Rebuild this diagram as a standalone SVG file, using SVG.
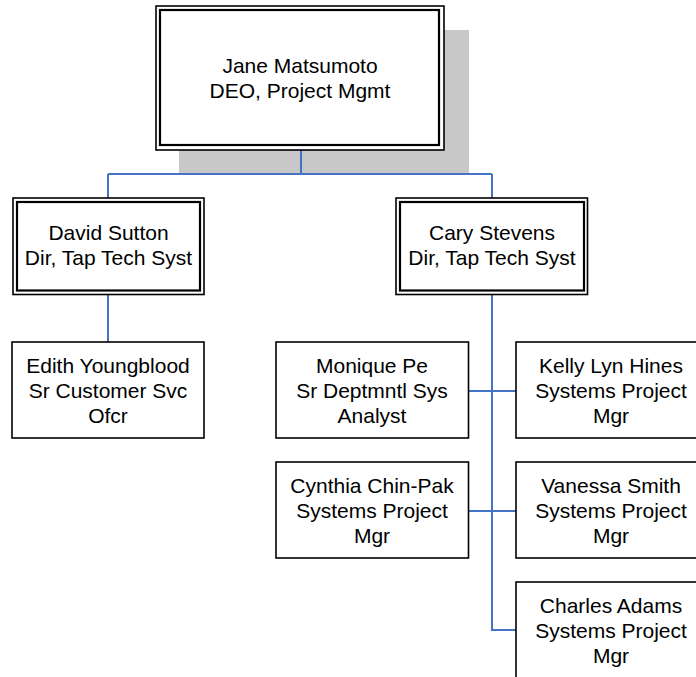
<svg xmlns="http://www.w3.org/2000/svg" width="696" height="677" viewBox="0 0 696 677">
<style>
text{font-family:"Liberation Sans",Arial,sans-serif;font-size:21px;fill:#000;text-anchor:middle}
.o{fill:#fff;stroke:#000;stroke-width:1.6}
.i{fill:none;stroke:#000;stroke-width:2.2}
.b{fill:#fff;stroke:#000;stroke-width:1.6}
.c{fill:none;stroke:#4472C4;stroke-width:2}
</style>
<rect width="696" height="677" fill="#fff"/>
<rect id="shadow" x="179" y="30" width="290" height="144" fill="#C8C8C8"/>
<g id="connectors">
<path class="c" d="M301 150V174M108 174H492M108 174V198M492 174V198"/>
<path class="c" d="M108 294V342"/>
<path class="c" d="M492 294V630H516"/>
<path class="c" d="M468 391H516M468 511H516"/>
</g>
<g id="jane">
<rect class="o" x="156" y="6" width="288" height="144"/>
<rect class="i" x="160" y="10" width="279" height="135"/>
<text x="300" y="73">Jane Matsumoto</text>
<text x="300" y="98">DEO, Project Mgmt</text>
</g>
<g id="david">
<rect class="o" x="13" y="198" width="191" height="96.5"/>
<rect class="i" x="17" y="202" width="183" height="88.5"/>
<text x="108.5" y="240">David Sutton</text>
<text x="108.5" y="265">Dir, Tap Tech Syst</text>
</g>
<g id="cary">
<rect class="o" x="396" y="198" width="191.5" height="96.5"/>
<rect class="i" x="400" y="202" width="184" height="88.5"/>
<text x="492" y="240">Cary Stevens</text>
<text x="492" y="265">Dir, Tap Tech Syst</text>
</g>
<g id="edith">
<rect class="b" x="12" y="342" width="192" height="96"/>
<text x="108" y="373">Edith Youngblood</text>
<text x="108" y="398">Sr Customer Svc</text>
<text x="108" y="423">Ofcr</text>
</g>
<g id="monique">
<rect class="b" x="276" y="342" width="192.5" height="96"/>
<text x="372" y="373">Monique Pe</text>
<text x="372" y="398">Sr Deptmntl Sys</text>
<text x="372" y="423">Analyst</text>
</g>
<g id="kelly">
<rect class="b" x="516" y="342" width="192" height="96"/>
<text x="611" y="373">Kelly Lyn Hines</text>
<text x="611" y="398">Systems Project</text>
<text x="611" y="423">Mgr</text>
</g>
<g id="cynthia">
<rect class="b" x="276" y="462" width="192.5" height="96"/>
<text x="372" y="493">Cynthia Chin-Pak</text>
<text x="372" y="518">Systems Project</text>
<text x="372" y="543">Mgr</text>
</g>
<g id="vanessa">
<rect class="b" x="516" y="462" width="192" height="96"/>
<text x="611" y="493">Vanessa Smith</text>
<text x="611" y="518">Systems Project</text>
<text x="611" y="543">Mgr</text>
</g>
<g id="charles">
<rect class="b" x="516" y="582" width="192" height="100"/>
<text x="611" y="613">Charles Adams</text>
<text x="611" y="638">Systems Project</text>
<text x="611" y="663">Mgr</text>
</g>
</svg>
